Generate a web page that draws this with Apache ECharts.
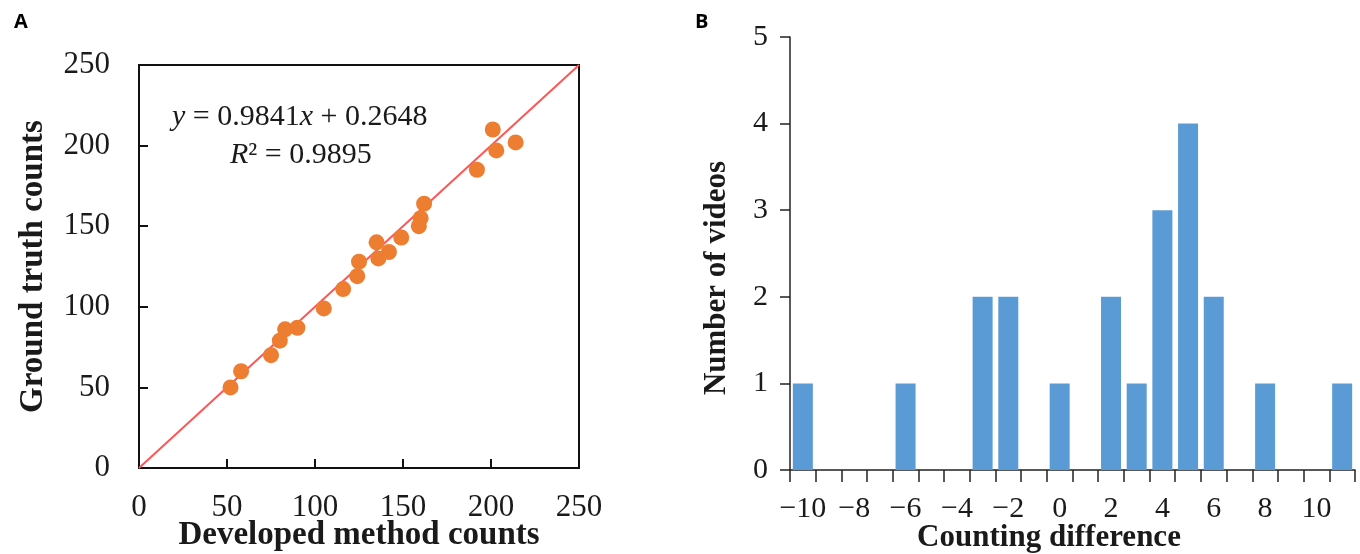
<!DOCTYPE html>
<html lang="en">
<head>
    <meta charset="UTF-8">
    <title>Counting comparison</title>
    <style>
        *{
            margin: 0;
            padding: 0;
        }
        html, body{
            height: 100%;
            width: 100%;
            background: #fff;
        }
        #chart{
            width: 1360px;
            height: 554px;
        }
    </style>
</head>
<body>
<div id="chart"></div>
<script src="https://cdn.jsdelivr.net/npm/echarts@6/dist/echarts.min.js"></script>
<script>
    // panel A: developed method vs ground truth
    var devCounts = [52, 58, 75, 80, 83, 90, 105, 116, 124, 125, 135, 136, 142, 149, 159, 160, 162, 192, 201, 203, 214];
    var truthCounts = [50, 60, 70, 79, 86, 87, 99, 111, 119, 128, 140, 130, 134, 143, 150, 155, 164, 185, 210, 197, 202];
    var refLine = [[0, 0], [250, 250]];

    // panel B: histogram of counting difference
    var diffCats = ['-10', '-9', '-8', '-7', '-6', '-5', '-4', '-3', '-2', '-1', '0', '1', '2', '3', '4', '5', '6', '7', '8', '9', '10', '11'];
    var videoNums = [1, 0, 0, 0, 1, 0, 0, 2, 2, 0, 1, 0, 2, 1, 3, 4, 2, 0, 1, 0, 0, 1];

    var serif = '"Liberation Serif", "Times New Roman", serif';
    var ink = '#1a1a1a';

    var pts = [];
    for (var i = 0; i < devCounts.length; i++) {
        pts.push([devCounts[i], truthCounts[i]]);
    }

    var chart = echarts.init(document.getElementById('chart'));
    var option = {
        animation: false,
        backgroundColor: '#fff',
        textStyle: {fontFamily: serif, color: ink},
        grid: [
            {left: 139, top: 65, width: 440, height: 403, outerBoundsMode: 'none', containLabel: false,
                show: true, borderColor: '#111', borderWidth: 2, backgroundColor: 'transparent'},
            {left: 790, top: 37, right: 5, height: 433, outerBoundsMode: 'none', containLabel: false}
        ],
        xAxis: [{
            gridIndex: 0,
            type: 'value',
            min: 0, max: 250, interval: 50,
            name: 'Developed method counts',
            nameLocation: 'middle',
            nameGap: 51,
            nameMoveOverlap: false,
            nameTextStyle: {fontFamily: serif, fontWeight: 'bold', fontSize: 33, color: ink},
            axisLine: {show: true, lineStyle: {color: '#111', width: 2}},
            axisTick: {show: true, inside: true, length: 9, lineStyle: {color: '#111', width: 2}},
            axisLabel: {fontFamily: serif, fontSize: 31, color: ink, margin: 24},
            splitLine: {show: false}
        }, {
            gridIndex: 1,
            type: 'category',
            data: diffCats,
            boundaryGap: true,
            axisLine: {show: true, lineStyle: {color: '#222', width: 1.5}},
            axisTick: {show: true, interval: 0, length: 12, lineStyle: {color: '#222', width: 1.5}},
            axisLabel: {
                interval: 1, fontFamily: serif, fontSize: 30, color: ink, margin: 24,
                formatter: function (v) { return v.replace('-', '\u2212'); }
            }
        }],
        yAxis: [{
            gridIndex: 0,
            type: 'value',
            min: 0, max: 250, interval: 50,
            name: 'Ground truth counts',
            nameLocation: 'middle',
            nameGap: 89,
            nameMoveOverlap: false,
            nameTextStyle: {fontFamily: serif, fontWeight: 'bold', fontSize: 33, color: ink},
            axisLine: {show: true, lineStyle: {color: '#111', width: 2}},
            axisTick: {show: true, inside: true, length: 9, lineStyle: {color: '#111', width: 2}},
            axisLabel: {fontFamily: serif, fontSize: 31, color: ink, margin: 29},
            splitLine: {show: false}
        }, {
            gridIndex: 1,
            type: 'value',
            min: 0, max: 5, interval: 1,
            axisLine: {show: true, lineStyle: {color: '#222', width: 1.5}},
            axisTick: {show: true, length: 10, lineStyle: {color: '#222', width: 1.5}},
            axisLabel: {fontFamily: serif, fontSize: 30, color: ink, margin: 22},
            splitLine: {show: false}
        }],
        series: [{
            type: 'line',
            xAxisIndex: 0, yAxisIndex: 0,
            data: refLine,
            symbol: 'none',
            lineStyle: {color: '#ff5555', width: 2},
            z: 1
        }, {
            type: 'scatter',
            xAxisIndex: 0, yAxisIndex: 0,
            data: pts,
            symbolSize: 16,
            itemStyle: {color: '#ed7d31', opacity: 1},
            z: 2
        }, {
            type: 'bar',
            xAxisIndex: 1, yAxisIndex: 1,
            data: videoNums,
            barWidth: 20,
            itemStyle: {color: '#5b9bd5'}
        }],
        graphic: [
            {type: 'text', left: 14, top: 12, style: {text: 'A', font: 'bold 20px "Open Sans", sans-serif', fill: '#000'}},
            {type: 'text', left: 695, top: 12, style: {text: 'B', font: 'bold 20px "Open Sans", sans-serif', fill: '#000'}},
            {
                type: 'text', x: 172, y: 117,
                style: {
                    text: '{i|y} = 0.9841{i|x} + 0.2648',
                    fontFamily: serif, fontSize: 30, fill: ink, verticalAlign: 'middle',
                    rich: {i: {fontFamily: serif, fontSize: 30, fontStyle: 'italic', fill: ink}}
                }
            },
            {
                type: 'text', x: 230, y: 155,
                style: {
                    text: '{i|R}\u00b2 = 0.9895',
                    fontFamily: serif, fontSize: 30, fill: ink, verticalAlign: 'middle',
                    rich: {i: {fontFamily: serif, fontSize: 30, fontStyle: 'italic', fill: ink}}
                }
            },
            {
                type: 'text', x: 717, y: 278, rotation: Math.PI / 2,
                style: {
                    text: 'Number of videos', fontFamily: serif, fontWeight: 'bold', fontSize: 31,
                    fill: ink, align: 'center', verticalAlign: 'middle'
                }
            },
            {
                type: 'text', x: 1049, y: 538,
                style: {
                    text: 'Counting difference', fontFamily: serif, fontWeight: 'bold', fontSize: 31,
                    fill: ink, align: 'center', verticalAlign: 'middle'
                }
            }
        ]
    };
    chart.setOption(option);
</script>
</body>
</html>
